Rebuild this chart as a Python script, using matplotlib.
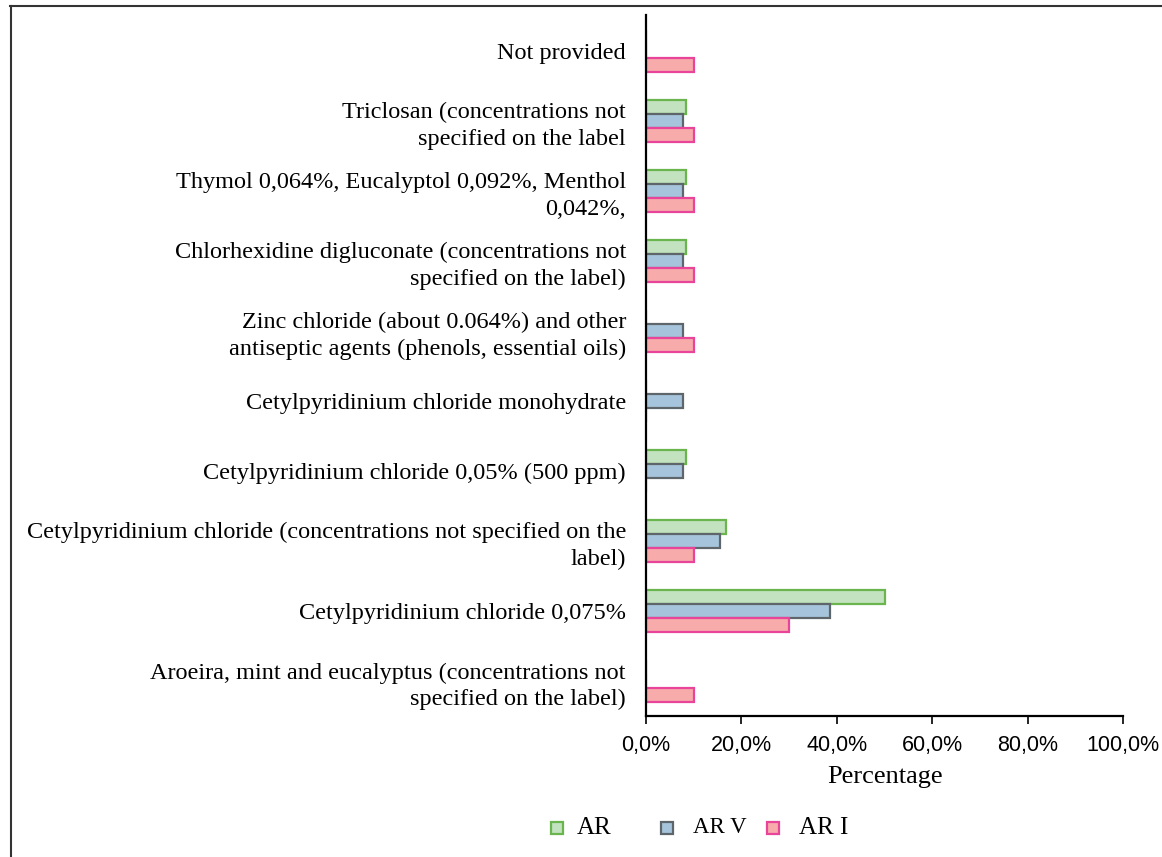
import numpy as np
import matplotlib.pyplot as plt
from matplotlib.lines import Line2D

categories = [
    "Aroeira, mint and eucalyptus (concentrations not\nspecified on the label)",
    "Cetylpyridinium chloride 0,075%",
    "Cetylpyridinium chloride (concentrations not specified on the\nlabel)",
    "Cetylpyridinium chloride 0,05% (500 ppm)",
    "Cetylpyridinium chloride monohydrate",
    "Zinc chloride (about 0.064%) and other\nantiseptic agents (phenols, essential oils)",
    "Chlorhexidine digluconate (concentrations not\nspecified on the label)",
    "Thymol 0,064%, Eucalyptol 0,092%, Menthol\n0,042%,",
    "Triclosan (concentrations not\nspecified on the label",
    "Not provided",
]
ar = [0, 50.0, 16.7, 8.3, 0, 0, 8.3, 8.3, 8.3, 0]
ar_v = [0, 38.5, 15.4, 7.7, 7.7, 7.7, 7.7, 7.7, 7.7, 0]
ar_i = [10.0, 30.0, 10.0, 0, 0, 10.0, 10.0, 10.0, 10.0, 10.0]

series_names = ["AR", "AR V", "AR I"]
fills = ["#c3e2c0", "#a6c5dc", "#f7abaa"]
edges = ["#6ab54e", "#5e666c", "#e8449a"]

serif = ["Liberation Serif", "DejaVu Serif"]
sans = ["Liberation Sans", "DejaVu Sans"]

fig = plt.figure(figsize=(11.62, 8.57), dpi=100)
ax = fig.add_axes([0.556, 0.1645, 0.4105, 0.818])

y = np.arange(len(categories))
h = 0.2
for vals, off, fc, ec in zip([ar, ar_v, ar_i], [h, 0, -h], fills, edges):
    ax.barh(y + off, vals, height=h, color=fc, edgecolor=ec, linewidth=1.6)

ax.set_xlim(0, 100)
ax.set_ylim(-0.5, 9.51)
ax.set_xticks(np.arange(0, 101, 20))
ax.set_xticklabels([f"{v},0%" for v in range(0, 101, 20)], fontfamily=sans, fontsize=15.5)
ax.set_yticks(y)
ax.set_yticklabels(categories, fontfamily=serif, fontsize=17.5, ha="right", linespacing=1.35)
ax.tick_params(axis="y", length=0, pad=14.5)
ax.tick_params(axis="x", length=6, width=1.2, pad=8)
for s in ["top", "right"]:
    ax.spines[s].set_visible(False)
ax.spines["left"].set_linewidth(1.6)
ax.spines["bottom"].set_linewidth(1.6)
ax.set_xlabel("Percentage", fontfamily=serif, fontsize=19, labelpad=7)

# legend laid out by hand, the spacing in the original is uneven
marker_x = [0.479, 0.574, 0.665]
label_x = [0.496, 0.596, 0.688]
label_size = [18, 16.5, 18]
leg_y = 0.034
for name, fc, ec, mx, lx, fs in zip(series_names, fills, edges, marker_x, label_x, label_size):
    fig.add_artist(Line2D([mx], [leg_y], marker="s", linestyle="none", markersize=8.5,
                          markerfacecolor=fc, markeredgecolor=ec, markeredgewidth=1.6,
                          transform=fig.transFigure))
    fig.text(lx, leg_y, name, fontfamily=serif, fontsize=fs, ha="left", va="center")

# frame lines of the original image
fig.add_artist(Line2D([0.009, 1.0], [0.993, 0.993], color="#333333", lw=1.5, transform=fig.transFigure))
fig.add_artist(Line2D([0.0095, 0.0095], [0.0, 0.993], color="#333333", lw=1.5, transform=fig.transFigure))

fig.savefig("out.png", dpi=100)
